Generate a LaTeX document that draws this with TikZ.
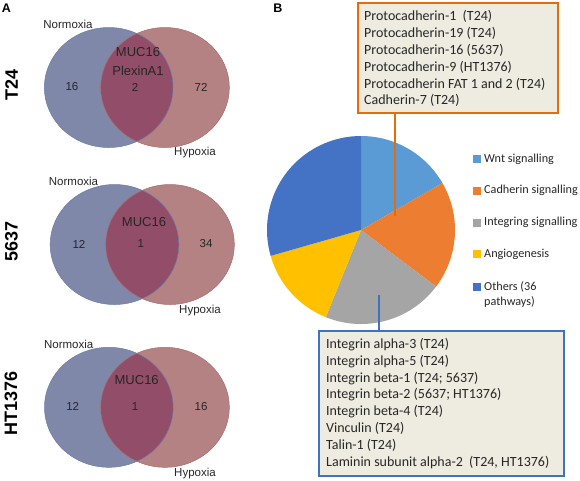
\documentclass[tikz,border=0pt]{standalone}
\usepackage{fontspec}
\setmainfont{Liberation Sans}
\newfontfamily\calib{Carlito}
\definecolor{vblue}{HTML}{8088AA}
\definecolor{vpink}{HTML}{B48282}
\definecolor{vover}{HTML}{924E68}
\definecolor{vblueline}{HTML}{6E7AA8}
\definecolor{vpinkline}{HTML}{A86C70}
\definecolor{cwnt}{HTML}{5B9BD5}
\definecolor{ccad}{HTML}{ED7D31}
\definecolor{cint}{HTML}{A5A5A5}
\definecolor{cang}{HTML}{FFC000}
\definecolor{coth}{HTML}{4472C4}
\definecolor{boxfill}{HTML}{EEECE1}
\definecolor{oline}{HTML}{E46C0A}
\definecolor{bline}{HTML}{3F72C0}
\definecolor{txt}{HTML}{262626}
\newcommand\vennpair[5]{%
  \fill[vblue] (#1,#2) ellipse [x radius=64.3pt, y radius=60pt];
  \fill[vpink] (#3,#2) ellipse [x radius=64.3pt, y radius=60pt];
  \begin{scope}
    \clip (#1,#2) ellipse [x radius=64.3pt, y radius=60pt];
    \fill[vover] (#3,#2) ellipse [x radius=64.3pt, y radius=60pt];
  \end{scope}
  \draw[vblueline, line width=0.5pt] (#1,#2) ellipse [x radius=64.3pt, y radius=60pt];
  \draw[vpinkline, line width=0.5pt] (#3,#2) ellipse [x radius=64.3pt, y radius=60pt];
}
\begin{document}
\begin{tikzpicture}[x=1pt,y=-1pt,
  vlab/.style={font=\fontsize{11.5}{13}\selectfont, text=txt, inner sep=0pt},
  vmid/.style={font=\fontsize{13}{15}\selectfont, text=txt, inner sep=0pt},
  cell/.style={font=\fontsize{18}{20}\selectfont\bfseries, rotate=90, inner sep=0pt},
  panel/.style={font=\fontsize{12.5}{14}\selectfont\bfseries, inner sep=0pt},
  leg/.style={font=\calib\fontsize{12.2}{14}\selectfont, text=txt, inner sep=0pt, anchor=west, align=left},
  legsq/.style={minimum size=8pt, inner sep=0pt},
  calloutbox/.style={fill=boxfill, line width=1.5pt, inner sep=0pt, anchor=north west},
  calltext/.style={font=\calib\fontsize{14}{16.8}\selectfont, text=txt, inner sep=0pt, anchor=west, align=left}
]
\useasboundingbox (0,0) rectangle (580,480);

% Panel labels
\node[panel] (pa) at (6.5,8) {A};
\node[panel] (pb) at (278,8) {B};

% T24
\vennpair{108.7}{87.5}{165}{87.5}{}
\node[cell] (c1) at (11.5,84.5) {T24};
\node[vlab] (n1) at (68,24) {Normoxia};
\node[vlab] (a1) at (72,87) {16};
\node[vmid] (m1) at (138,52) {MUC16};
\node[vmid] (p1) at (138,71) {PlexinA1};
\node[vlab] (o1) at (135,87) {2};
\node[vlab] (b1) at (201,87) {72};
\node[vlab] (h1) at (195,153) {Hypoxia};

% 5637
\vennpair{114.5}{244.5}{170}{244.5}{}
\node[cell] (c2) at (11.5,241.7) {5637};
\node[vlab] (n2) at (73.5,181.7) {Normoxia};
\node[vlab] (a2) at (79,244) {12};
\node[vmid] (m2) at (144,222.3) {MUC16};
\node[vlab] (o2) at (140.7,243.5) {1};
\node[vlab] (b2) at (206,243.5) {34};
\node[vlab] (h2) at (200,310.7) {Hypoxia};

% HT1376
\vennpair{108.8}{407.3}{165}{407.3}{}
\node[cell] (c3) at (11,403) {HT1376};
\node[vlab] (n3) at (68.7,344) {Normoxia};
\node[vlab] (a3) at (72.7,406.7) {12};
\node[vmid] (m3) at (136.7,380) {MUC16};
\node[vlab] (o3) at (135,406.7) {1};
\node[vlab] (b3) at (201,406.7) {16};
\node[vlab] (h3) at (195,473.3) {Hypoxia};

% Pie
\coordinate (pc) at (361,230);
\fill[cwnt] (pc) -- ++(90:94pt) arc[start angle=90, end angle=30, radius=94pt] -- cycle;
\fill[ccad] (pc) -- ++(30:94pt) arc[start angle=30, end angle=-37, radius=94pt] -- cycle;
\fill[cint] (pc) -- ++(-37:94pt) arc[start angle=-37, end angle=-112, radius=94pt] -- cycle;
\fill[cang] (pc) -- ++(-112:94pt) arc[start angle=-112, end angle=-164, radius=94pt] -- cycle;
\fill[coth] (pc) -- ++(-164:94pt) arc[start angle=-164, end angle=-270, radius=94pt] -- cycle;

% Legend
\node[legsq, fill=cwnt] (s1) at (477,159.3) {};
\node[leg] (l1) at (484,159.3) {Wnt signalling};
\node[legsq, fill=ccad] (s2) at (477,190.7) {};
\node[leg] (l2) at (484,190.7) {Cadherin signalling};
\node[legsq, fill=cint] (s3) at (477,222.7) {};
\node[leg] (l3) at (484,222.7) {Integring signalling};
\node[legsq, fill=cang] (s4) at (477,254.3) {};
\node[leg] (l4) at (484,254.3) {Angiogenesis};
\node[legsq, fill=coth] (s5) at (477,286.7) {};
\node[leg, font=\calib\fontsize{12.2}{15}\selectfont] (l5) at (484,294.2) {Others (36\\pathways)};

% Cadherin callout
\node[calloutbox, draw=oline, minimum width=200pt, minimum height=110pt] (cadbox) at (357,2) {};
\node[calltext] (cadtext) at ([xshift=7pt,yshift=-1pt]cadbox.west) {Protocadherin-1\ \ (T24)\\Protocadherin-19 (T24)\\Protocadherin-16 (5637)\\Protocadherin-9 (HT1376)\\Protocadherin FAT 1 and 2 (T24)\\Cadherin-7 (T24)};
\coordinate (cadpt) at (395,216);
\draw[oline, line width=1.5pt] (cadbox.south -| cadpt) -- (cadpt);

% Integrin callout
\node[calloutbox, draw=bline, minimum width=245pt, minimum height=145pt] (intbox) at (318,330) {};
\node[calltext] (inttext) at ([xshift=8pt]intbox.west) {Integrin alpha-3 (T24)\\Integrin alpha-5 (T24)\\Integrin beta-1 (T24; 5637)\\Integrin beta-2 (5637; HT1376)\\Integrin beta-4 (T24)\\Vinculin (T24)\\Talin-1 (T24)\\Laminin subunit alpha-2\ \ (T24, HT1376)};
\coordinate (intpt) at (379,295);
\draw[bline, line width=1.5pt] (intbox.north -| intpt) -- (intpt);
\end{tikzpicture}
\end{document}
